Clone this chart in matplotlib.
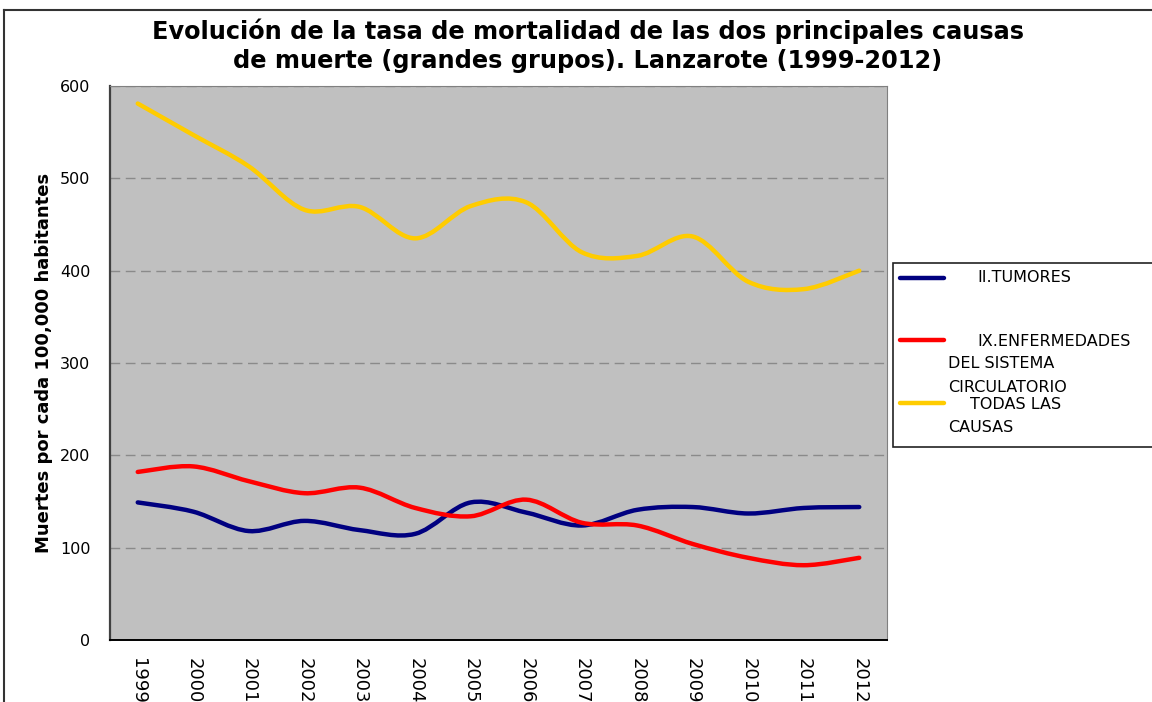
import numpy as np
import matplotlib.pyplot as plt
from matplotlib.path import Path
from matplotlib.patches import PathPatch, Rectangle
from matplotlib.lines import Line2D

years = [1999, 2000, 2001, 2002, 2003, 2004, 2005, 2006, 2007, 2008, 2009, 2010, 2011, 2012]
tumores = [149, 139, 118, 129, 119, 115, 149, 138, 124, 141, 144, 137, 143, 144]
circulatorio = [182, 188, 172, 159, 165, 143, 134, 152, 127, 124, 104, 89, 81, 89]
todas = [581, 547, 513, 466, 469, 435, 470, 474, 420, 416, 437, 388, 380, 400]

series = [
    (tumores, '#000080', 'II.TUMORES'),
    (circulatorio, '#FF0000', 'IX.ENFERMEDADES DEL SISTEMA CIRCULATORIO'),
    (todas, '#FFCC00', 'TODAS LAS CAUSAS'),
]


def smooth_path(x, y):
    # bezier through the points, like the smoothed lines in a spreadsheet chart
    p = np.column_stack([x, y]).astype(float)
    n = len(p)
    verts = [p[0]]
    codes = [Path.MOVETO]
    for i in range(n - 1):
        p0 = p[i - 1] if i > 0 else p[i]
        p3 = p[i + 2] if i + 2 < n else p[i + 1]
        c1 = p[i] + (p[i + 1] - p0) / 6.0
        c2 = p[i + 1] - (p3 - p[i]) / 6.0
        verts += [c1, c2, p[i + 1]]
        codes += [Path.CURVE4] * 3
    return Path(verts, codes)


W, H = 1152, 702
fig = plt.figure(figsize=(W / 100, H / 100), dpi=100)
ax = fig.add_axes([110 / W, 1 - 640 / H, 777 / W, 554 / H])
ax.set_facecolor('#C0C0C0')

for vals, col, lab in series:
    ax.add_patch(PathPatch(smooth_path(years, vals), fill=False, edgecolor=col,
                           lw=3.2, capstyle='round', joinstyle='round', zorder=3))

ax.set_xlim(1998.5, 2012.5)
ax.set_ylim(0, 600)
ax.set_yticks(range(0, 601, 100))
ax.set_xticks(years)
ax.set_xticklabels([str(y) for y in years], rotation=270, fontsize=13,
                   va='top', ha='center')
ax.tick_params(axis='x', length=0, pad=13)
ax.tick_params(axis='y', length=0, pad=14, labelsize=11.5)
ax.yaxis.grid(True, color='#8a8a8a', linestyle=(0, (7, 4)), lw=1.0)
ax.set_axisbelow(True)

ax.spines['left'].set_color('#404040')
ax.spines['left'].set_linewidth(1.6)
ax.spines['bottom'].set_color('#000000')
ax.spines['bottom'].set_linewidth(1.4)
ax.spines['top'].set_color('#808080')
ax.spines['right'].set_color('#808080')

ax.set_ylabel('Muertes por cada 100,000 habitantes', fontsize=13,
              fontweight='bold', labelpad=5)

fig.text(588 / W, 1 - 31 / H, 'Evolución de la tasa de mortalidad de las dos principales causas',
         ha='center', va='center', fontsize=17.3, fontweight='bold')
fig.text(588 / W, 1 - 61 / H, 'de muerte (grandes grupos). Lanzarote (1999-2012)',
         ha='center', va='center', fontsize=17.3, fontweight='bold')

# outer chart frame (cropped at right and bottom)
fig.add_artist(Line2D([4 / W, 4 / W], [0, 1 - 10 / H], color='#333333', lw=1.5))
fig.add_artist(Line2D([4 / W, 1], [1 - 10 / H, 1 - 10 / H], color='#333333', lw=1.5))

# legend box drawn by hand
fig.add_artist(Rectangle((893 / W, 1 - 447 / H), 270 / W, 184 / H,
                         facecolor='white', edgecolor='#222222', lw=1.2))
legend_rows = [
    (278, '#000080', [(977, 278, 'II.TUMORES')]),
    (340, '#FF0000', [(977, 341, 'IX.ENFERMEDADES'), (948, 364, 'DEL SISTEMA'),
                      (948, 387, 'CIRCULATORIO')]),
    (403, '#FFCC00', [(970, 405, 'TODAS LAS'), (948, 428, 'CAUSAS')]),
]
for ly, col, texts in legend_rows:
    fig.add_artist(Line2D([900 / W, 944 / W], [1 - ly / H, 1 - ly / H], color=col,
                          lw=3.2, solid_capstyle='round'))
    for tx, ty, t in texts:
        fig.text(tx / W, 1 - ty / H, t, ha='left', va='center', fontsize=11.5)

fig.savefig('out.png', dpi=100)
